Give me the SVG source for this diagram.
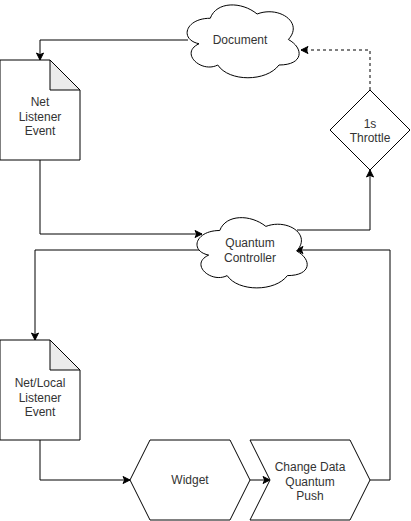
<svg xmlns="http://www.w3.org/2000/svg" width="411" height="521" viewBox="0 0 411 521">
<style>
.shape{fill:#ffffff;stroke:#000000;stroke-width:1}
.fold{fill:#ebebeb;stroke:#000000;stroke-width:1}
.edge{fill:none;stroke:#000000;stroke-width:1}
.dash{stroke-dasharray:3,3}
text{font-family:"Liberation Sans",Arial,sans-serif;font-size:12px;fill:#333333;text-anchor:middle}
</style>
<defs>
<marker id="arr" markerUnits="userSpaceOnUse" markerWidth="10" markerHeight="10" viewBox="-8 -5 10 10" refX="0" refY="0" orient="auto" overflow="visible">
<path d="M-7,-3.5 L0,0 L-7,3.5 L-5.3,0 Z" fill="#000000" stroke="#000000" stroke-width="1" stroke-dasharray="none"/>
</marker>
</defs>
<rect width="411" height="521" fill="#ffffff"/>
<g id="connectors">
<path class="edge" d="M188,40 L40,40 L40,60" marker-end="url(#arr)"/>
<path class="edge" d="M40,160 L40,234 L202,234" marker-end="url(#arr)"/>
<path class="edge" d="M297,230 L370,230 L370,170" marker-end="url(#arr)"/>
<path class="edge dash" d="M370,90 L370,50 L301,50" marker-end="url(#arr)"/>
<path class="edge" d="M200,250 L35,250 L35,340" marker-end="url(#arr)"/>
<path class="edge" d="M40,440 L40,480 L130,480" marker-end="url(#arr)"/>
<path class="edge" d="M250,480 L270,480" marker-end="url(#arr)"/>
<path class="edge" d="M370,480 L390,480 L390,250 L296,250" marker-end="url(#arr)"/>
</g>
<g id="document">
<path class="shape" d="M210.25,18.25 C185.25,18.25 179,39.5 199,43.75 C179,53.1 201.5,73.5 217.75,65 C229,82 266.5,82 279,65 C304,65 304,48 288.375,39.5 C304,22.5 279,5.5 257.125,14 C241.5,1.25 216.5,1.25 210.25,18.25 Z"/>
<text x="240" y="44">Document</text>
</g>
<g id="net-listener-event">
<path class="shape" d="M0,60 L50,60 L80,90 L80,160 L0,160 Z"/>
<path class="fold" d="M50,60 L50,90 L80,90 Z"/>
<text x="40" y="106">Net</text>
<text x="40" y="120.5">Listener</text>
<text x="40" y="135">Event</text>
</g>
<g id="throttle">
<path class="shape" d="M370,90 L410,130 L370,170 L330,130 Z"/>
<text x="370" y="127.5">1s</text>
<text x="370" y="142">Throttle</text>
</g>
<g id="quantum-controller">
<path class="shape" d="M219.75,230.5 C195.15,230.5 189,251 208.68,255.1 C189,264.12 211.14,283.8 227.13,275.6 C238.2,292 275.1,292 287.4,275.6 C312,275.6 312,259.2 296.625,251 C312,234.6 287.4,218.2 265.875,226.4 C250.5,214.1 225.9,214.1 219.75,230.5 Z"/>
<text x="250" y="247">Quantum</text>
<text x="250" y="261.5">Controller</text>
</g>
<g id="net-local-listener-event">
<path class="shape" d="M0,340 L50,340 L80,370 L80,440 L0,440 Z"/>
<path class="fold" d="M50,340 L50,370 L80,370 Z"/>
<text x="40" y="387">Net/Local</text>
<text x="40" y="401.5">Listener</text>
<text x="40" y="416">Event</text>
</g>
<g id="widget">
<path class="shape" d="M130,480 L150,440 L230,440 L250,480 L230,520 L150,520 Z"/>
<text x="190" y="484">Widget</text>
</g>
<g id="change-data-quantum-push">
<path class="shape" d="M250,440 L350,440 L370,480 L350,520 L250,520 L270,480 Z"/>
<text x="310" y="471">Change Data</text>
<text x="310" y="485.5">Quantum</text>
<text x="310" y="500">Push</text>
</g>
</svg>
